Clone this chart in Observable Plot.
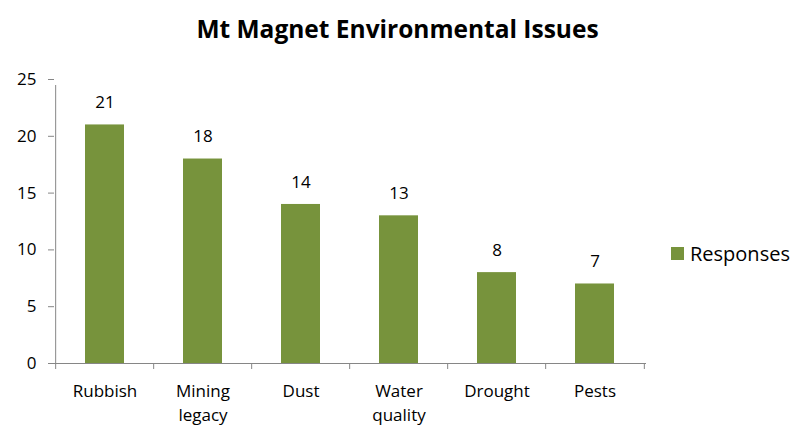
<!DOCTYPE html>
<html>
<head>
<meta charset="utf-8">
<script src="https://cdn.jsdelivr.net/npm/d3@7"></script>
<script src="https://cdn.jsdelivr.net/npm/@observablehq/plot@0.6"></script>
<style>
  body { margin: 0; background: #fff; font-family: "Open Sans", sans-serif; }
  #wrap { position: relative; width: 795px; height: 426px; }
  #title { height: 60px; width: 795px; text-align: center; font-weight: bold; font-size: 24.5px; line-height: 58px; color: #000; }
  #legend { position: absolute; left: 671px; top: 240px; display: flex; align-items: center; font-size: 20px; color: #000; }
  #legend .sw { width: 13px; height: 13px; margin-right: 6px; }
</style>
</head>
<body>
<div id="wrap">
  <div id="title">Mt Magnet Environmental Issues</div>
  <div id="chart"></div>
  <div id="legend"><div class="sw"></div><span>Responses</span></div>
</div>
<script>
const categories = ["Rubbish", "Mining\nlegacy", "Dust", "Water\nquality", "Drought", "Pests"];
const responses = [21, 18, 14, 13, 8, 7];
const yTicks = [0, 5, 10, 15, 20, 25];
const seriesName = "Responses";
const barColor = "#77933C";

const data = categories.map((c, i) => ({category: c, value: responses[i]}));
document.querySelector("#legend .sw").style.background = barColor;

const W = 795, H = 366;
const mL = 54, mR = 149, mT = 19, mB = 63;
const step = (W - mL - mR) / categories.length;
const axisColor = "#868686";
const fs = 17;

const chart = Plot.plot({
  width: W,
  height: H,
  marginLeft: mL,
  marginRight: mR,
  marginTop: mT,
  marginBottom: mB,
  style: {fontFamily: "'Open Sans', sans-serif", fontSize: fs + "px", color: "#000", background: "#fff"},
  x: {domain: categories, paddingInner: 0.6, paddingOuter: 0.3, label: null},
  y: {domain: [0, 25], label: null},
  marks: [
    Plot.barY(data, {x: "category", y: "value", fill: barColor}),
    Plot.text(data, {x: "category", y: "value", text: d => String(d.value), dy: -22, fontSize: fs, fill: "#000"}),
    Plot.axisY({ticks: yTicks, tickSize: 6, tickPadding: 12, stroke: axisColor, fontSize: fs, fill: "#000", label: null}),
    Plot.axisX({tickSize: 0, tickPadding: 17, lineHeight: 1.38, fontSize: fs, fill: "#000", label: null}),
    // y axis line (left boundary of first category band)
    Plot.ruleX([categories[0]], {x: d => d, dx: -step / 2, y1: 0, y2: 25, insetBottom: -6, stroke: axisColor}),
    // category boundary ticks
    Plot.ruleX(categories, {x: d => d, dx: -step / 2, y1: 0, y2: 0, insetBottom: -6, stroke: axisColor}),
    Plot.ruleX([categories[categories.length - 1]], {x: d => d, dx: step / 2, y1: 0, y2: 0, insetBottom: -6, stroke: axisColor}),
    Plot.ruleY([0], {stroke: axisColor}),
  ]
});
document.getElementById("chart").appendChild(chart);
</script>
</body>
</html>
